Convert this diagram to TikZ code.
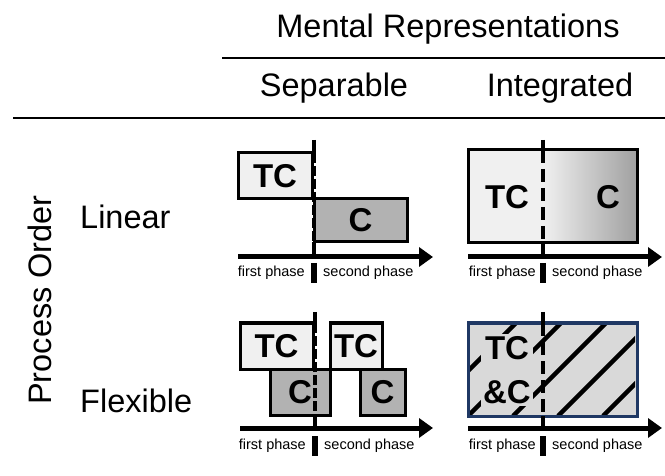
\documentclass[tikz,border=0pt]{standalone}
\usepackage{fontspec}
\setmainfont{Liberation Sans}
\usetikzlibrary{arrows.meta,positioning}
\definecolor{tclight}{HTML}{F0F0F0}
\definecolor{cdark}{HTML}{B2B2B2}
\definecolor{mixgray}{HTML}{D9D9D9}
\definecolor{mixedge}{HTML}{1F3864}
\tikzset{
  heading/.style={font=\fontsize{32.5}{38}\selectfont,inner sep=0pt,anchor=base},
  rowlabel/.style={font=\fontsize{32.5}{38}\selectfont,inner sep=0pt,anchor=base west},
  rule/.style={line width=2.5pt},
  tclabel/.style={font=\bfseries\fontsize{33}{44}\selectfont,inner sep=0pt},
  phasebox/.style={draw,line width=3pt,tclabel},
  tcbox/.style={phasebox,fill=tclight},
  cbox/.style={phasebox,fill=cdark},
  timeline/.style={line width=5pt,-{Triangle[length=14pt,width=19pt]}},
  divider/.style={line width=4.5pt},
  phaselabel/.style={font=\fontsize{14.5}{17}\selectfont,inner sep=0pt},
  phasebar/.style={line width=6pt},
  hatch/.style={line width=4.5pt},
}

\begin{document}
\begin{tikzpicture}[x=1pt,y=-1pt]
  \useasboundingbox (0,0) rectangle (665,476);
  % headings
  \node[heading] (mental) at (448,38) {Mental Representations};
  \draw[rule] (222,58) -- (665,58);
  \node[heading] (sep) at (334,97) {Separable};
  \node[heading] (int) at (560,97) {Integrated};
  \draw[rule] (13,118) -- (665,118);
  \node[heading,rotate=90] (order) at (52,300) {Process Order};
  \node[rowlabel] (linear) at (80,229) {Linear};
  \node[rowlabel] (flexible) at (80,412) {Flexible};

  % linear / separable
  \node[tcbox,minimum width=74pt,minimum height=46pt] (lsep tc) at (275,176) {TC};
  \node[cbox,minimum width=93pt,minimum height=43pt] (lsep c) at (360.5,220.5) {C};
  \draw[divider] (314,140) -- (314,153);
  \draw[divider,dash pattern=on 10pt off 3pt] (314,153) -- (314,242);
  \draw[divider] (314,242) -- (314,257);
  \coordinate (lsep start) at (238,257);
  \coordinate (lsep end) at (433,257);
  \draw[timeline] (lsep start) -- (lsep end);
  \coordinate (lsep mid) at (314,273);
  \node[phaselabel,left=9pt of lsep mid] (lsep first) {first phase};
  \node[phaselabel,right=9pt of lsep mid] (lsep second) {second phase};
  \draw[phasebar] ([yshift=10pt]lsep mid) -- ([yshift=-10pt]lsep mid);

  % linear / integrated
  \fill[tclight] (468,150) rectangle (543,243);
  \shade[left color=tclight,right color=cdark!90!black] (543,150) rectangle (637,243);
  \node[phasebox,minimum width=169pt,minimum height=93pt] (lint) at (552.5,196.5) {};
  \node[tclabel] (lint tc) at (507,197) {TC};
  \node[tclabel] (lint c) at (608,197) {C};
  \draw[divider] (543,140) -- (543,150);
  \draw[divider,dash pattern=on 13pt off 6pt] (543,150) -- (543,243);
  \draw[divider] (543,243) -- (543,257);
  \coordinate (lint start) at (468,257);
  \coordinate (lint end) at (662,257);
  \draw[timeline] (lint start) -- (lint end);
  \coordinate (lint mid) at (543,273);
  \node[phaselabel,left=7pt of lint mid] (lint first) {first phase};
  \node[phaselabel,right=9pt of lint mid] (lint second) {second phase};
  \draw[phasebar] ([yshift=10pt]lint mid) -- ([yshift=-10pt]lint mid);

  % flexible / separable
  \node[tcbox,minimum width=73pt,minimum height=46pt] (fsep tc1) at (276.5,346) {TC};
  \node[tcbox,minimum width=52pt,minimum height=46pt] (fsep tc2) at (356,346) {TC};
  \node[cbox,minimum width=60pt,minimum height=46pt] (fsep c1) at (300,392) {C\hspace{4pt}};
  \node[cbox,minimum width=45pt,minimum height=46pt] (fsep c2) at (382.5,392) {C};
  \draw[divider] (315,312) -- (315,323);
  \draw[divider,dash pattern=on 10pt off 3pt] (315,323) -- (315,415);
  \draw[divider] (315,415) -- (315,428);
  \coordinate (fsep start) at (240,428);
  \coordinate (fsep end) at (433,428);
  \draw[timeline] (fsep start) -- (fsep end);
  \coordinate (fsep mid) at (315,446);
  \node[phaselabel,left=9pt of fsep mid] (fsep first) {first phase};
  \node[phaselabel,right=9pt of fsep mid] (fsep second) {second phase};
  \draw[phasebar] ([yshift=10pt]fsep mid) -- ([yshift=-10pt]fsep mid);

  % flexible / integrated
  \node[draw=mixedge,fill=mixgray,line width=3pt,minimum width=169pt,minimum height=93pt] (fint) at (552.5,369.5) {};
  \begin{scope}
    \clip (470,325) rectangle (635,414);
    \foreach \x in {423,468,...,603}
      \draw[hatch] (\x,416) -- ++(150,-150);
  \end{scope}
  \node[tclabel,fill=mixgray,align=center,inner sep=2pt] (fint txt) at (507,370) {TC\\\&C};
  \draw[divider] (543,312) -- (543,323);
  \draw[divider,dash pattern=on 13pt off 6pt] (543,323) -- (543,416);
  \draw[divider] (543,416) -- (543,428);
  \coordinate (fint start) at (468,428);
  \coordinate (fint end) at (662,428);
  \draw[timeline] (fint start) -- (fint end);
  \coordinate (fint mid) at (543,446);
  \node[phaselabel,left=7pt of fint mid] (fint first) {first phase};
  \node[phaselabel,right=9pt of fint mid] (fint second) {second phase};
  \draw[phasebar] ([yshift=10pt]fint mid) -- ([yshift=-10pt]fint mid);
\end{tikzpicture}
\end{document}
